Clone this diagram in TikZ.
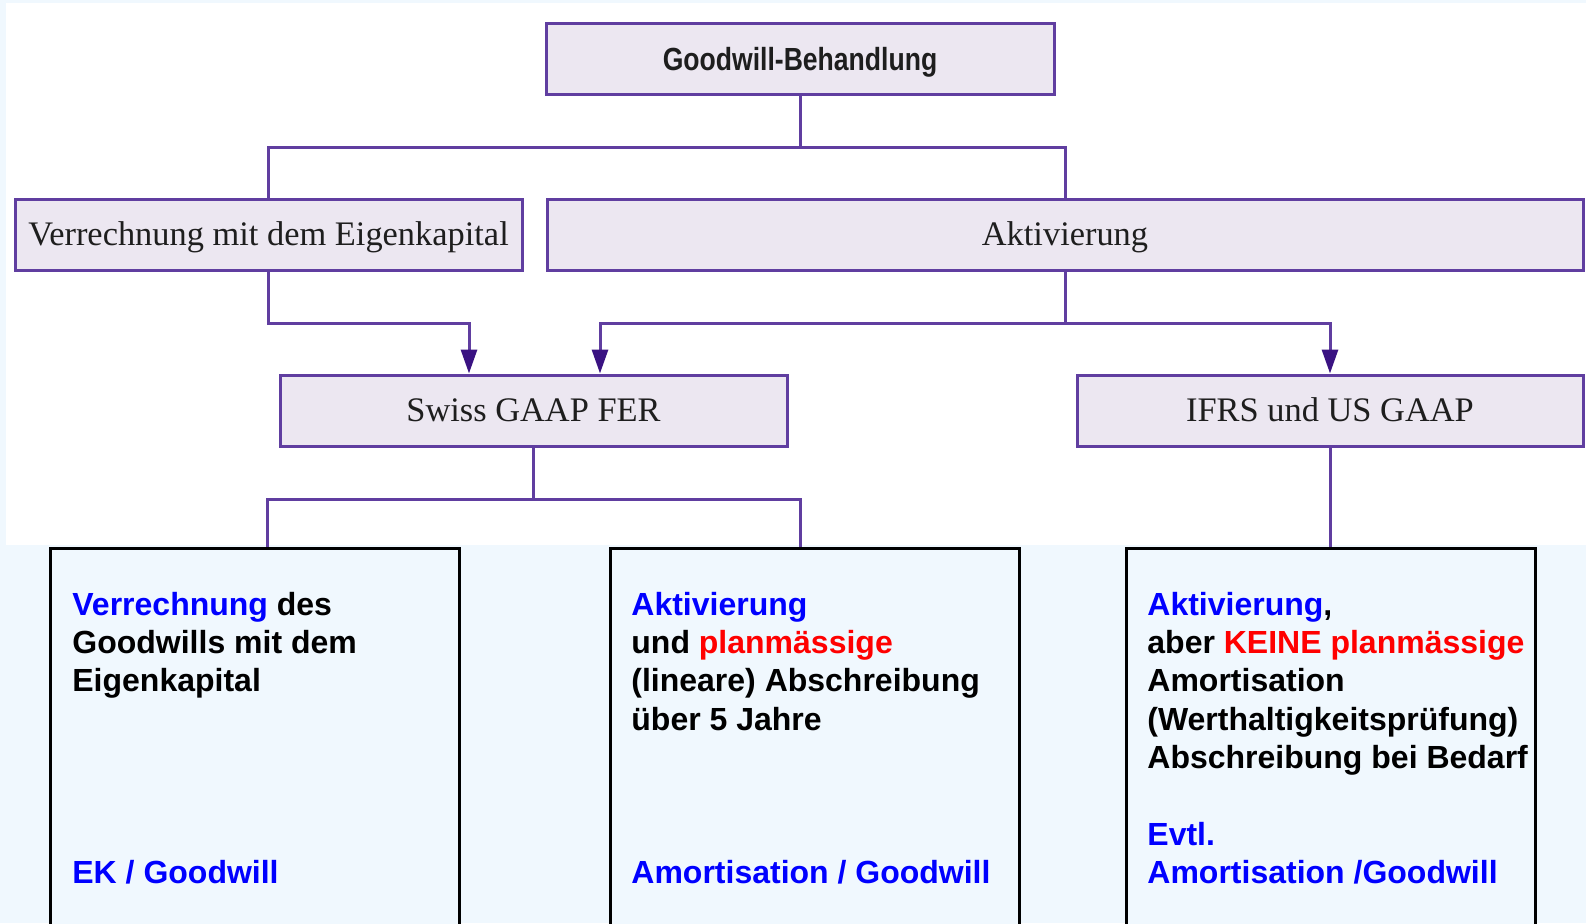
\documentclass[tikz,border=0pt]{standalone}
\usepackage{fontspec}
\setmainfont{Liberation Serif}
\newfontfamily\condsans[FakeStretch=0.83]{Liberation Sans}
\newfontfamily\plainsans{Liberation Sans}
\usetikzlibrary{arrows.meta}

\definecolor{pagebg}{RGB}{240,248,254}
\definecolor{boxline}{RGB}{96,62,160}
\definecolor{boxfill}{RGB}{236,231,241}
\definecolor{boxtext}{RGB}{30,30,30}
\definecolor{tipcol}{RGB}{58,18,130}
\definecolor{hlblue}{RGB}{0,0,255}
\definecolor{hlred}{RGB}{255,0,0}

\newcommand{\hb}[1]{\textcolor{hlblue}{#1}}
\newcommand{\hr}[1]{\textcolor{hlred}{#1}}

\begin{document}
\begin{tikzpicture}[x=0.5pt,y=-0.5pt,
  flowbox/.style={draw=boxline, line width=1.5pt, fill=boxfill, minimum height=35.5pt,
    inner sep=0pt, text=boxtext, text height=11.4pt, text depth=0pt,
    font=\fontsize{17.2pt}{20pt}\selectfont},
  link/.style={draw=boxline, line width=1.5pt},
  arrowlink/.style={link, -{Triangle[width=8pt,length=12pt,color=tipcol]}},
  infobox/.style={draw=black, line width=1pt, fill=pagebg, minimum width=204pt,
    minimum height=196pt, inner sep=0pt, anchor=north},
  infotext/.style={anchor=base west, inner sep=0pt,
    font=\plainsans\bfseries\fontsize{16pt}{19.2pt}\selectfont}
]
\useasboundingbox (0,0) rectangle (1586,923);
\clip (0,0) rectangle (1586,923);

% backgrounds
\fill[pagebg] (0,0) rectangle (1586,923);
\fill[white] (6,3) rectangle (1586,545);

% upper chart boxes
\node[flowbox, minimum width=254pt, text height=11.6pt,
  font=\condsans\bfseries\fontsize{16pt}{19pt}\selectfont]
  (top) at (800,58.5) {Goodwill-Behandlung};
\node[flowbox, minimum width=253.5pt] (verr) at (268.5,234.5) {Verrechnung mit dem Eigenkapital};
\node[flowbox, minimum width=518pt] (aktiv) at (1065,234.5) {Aktivierung};
\node[flowbox, minimum width=253.5pt] (swiss) at (533.5,410.5) {Swiss GAAP FER};
\node[flowbox, minimum width=253pt] (ifrs) at (1330,410.5) {IFRS und US GAAP};

% lower detail boxes
\node[infobox] (b1) at (255,548) {};
\node[infobox] (b2) at (815,548) {};
\node[infobox] (b3) at (1331,548) {};

% junction points
\coordinate (s1) at (800,147);
\coordinate (s2) at (469,323);
\coordinate (s3) at (600,323);
\coordinate (s4) at (1330,323);
\coordinate (e1) at (267,499);
\coordinate (e2) at (800,499);

% connectors
\draw[link] (top.south) -- (s1);
\draw[link] (verr.north) |- (s1) -| (aktiv.north);
\draw[arrowlink] (verr.south) |- (s2) -- (s2 |- swiss.north);
\draw[arrowlink] (aktiv.south) |- (s3) -- (s3 |- swiss.north);
\draw[arrowlink] (aktiv.south) |- (s4) -- (s4 |- ifrs.north);
\draw[link] (swiss.south) -- (swiss.south |- e1);
\draw[link] (b1.north -| e1) |- (e2) -- (e2 |- b2.north);
\draw[link] (ifrs.south) -- (ifrs.south |- b3.north);

% redraw box outlines over connector ends
\foreach \b in {b1,b2,b3}{
  \draw[black, line width=1pt] (\b.north west) rectangle (\b.south east);
}

% box texts
\node[infotext] (t1) at (72,615) {\parbox[t]{200pt}{\raggedright
  \hb{Verrechnung} des\\Goodwills mit dem\\Eigenkapital}};
\node[infotext] (t1b) at (72,883) {\hb{EK / Goodwill}};

\node[infotext] (t2) at (631,615) {\parbox[t]{200pt}{\raggedright
  \hb{Aktivierung}\\und \hr{planmässige}\\(lineare) Abschreibung\\über 5 Jahre}};
\node[infotext] (t2b) at (631,883) {\hb{Amortisation / Goodwill}};

\node[infotext] (t3) at (1147,615) {\parbox[t]{200pt}{\raggedright
  \hb{Aktivierung},\\aber \hr{KEINE planmässige}\\Amortisation\\(Werthaltigkeitsprüfung)\\Abschreibung bei Bedarf}};
\node[infotext] (t3b) at (1147,845) {\parbox[t]{200pt}{\raggedright
  \hb{Evtl.}\\\hb{Amortisation /Goodwill}}};
\end{tikzpicture}
\end{document}
